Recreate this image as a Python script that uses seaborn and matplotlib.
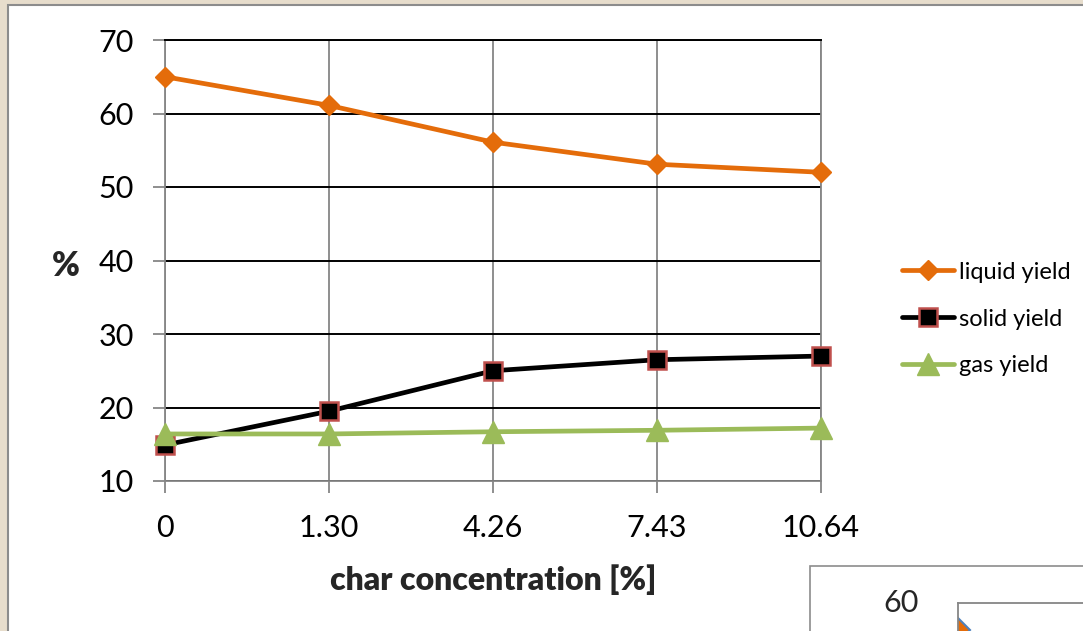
import numpy as np
import pandas as pd
import matplotlib
matplotlib.use("Agg")
import matplotlib.pyplot as plt
from matplotlib.patches import Rectangle
import seaborn as sns

# ---- data ----
categories = ["0", "1.30", "4.26", "7.43", "10.64"]
liquid_yield = [65.0, 61.1, 56.1, 53.1, 52.0]
solid_yield = [14.9, 19.5, 25.0, 26.5, 27.0]
gas_yield = [16.4, 16.4, 16.7, 16.9, 17.2]
y_ticks = [10, 20, 30, 40, 50, 60, 70]
series_names = ["liquid yield", "solid yield", "gas yield"]

# partially visible second chart (bottom right)
second_y_ticks = [60]
second_values = [56.3]

sns.set_theme(style="white")
plt.rcParams["font.family"] = ["Lato", "DejaVu Sans"]

W, H = 1083, 631
fig = plt.figure(figsize=(W / 100, H / 100), dpi=100, facecolor="#E7DDCC")

# white panel
fig.patches.append(Rectangle((8 / W, -0.1), 1.2, (H - 5) / H + 0.1, transform=fig.transFigure,
                             facecolor="white", edgecolor="#8C8C8C", lw=1.5, zorder=-2))
# second chart box
fig.patches.append(Rectangle((810 / W, -0.1), 1.0, (H - 566) / H + 0.1, transform=fig.transFigure,
                             facecolor="white", edgecolor="#8C8C8C", lw=1.2, zorder=-1))

L, R, T, B = 165, 821, 40, 481
ax = fig.add_axes([L / W, 1 - B / H, (R - L) / W, (B - T) / H])
ax.set_facecolor("white")

x = np.arange(len(categories))
df = pd.DataFrame({"x": x, "liquid yield": liquid_yield, "solid yield": solid_yield, "gas yield": gas_yield})

styles = {
    "liquid yield": dict(color="#E46C0A", marker="D", markersize=10, markeredgecolor="#E46C0A", markeredgewidth=1),
    "solid yield": dict(color="black", marker="s", markersize=12.5, markeredgecolor="#C0504D", markeredgewidth=1.8),
    "gas yield": dict(color="#9BBB59", marker="^", markersize=16, markeredgecolor="#9BBB59", markeredgewidth=1),
}
for name in series_names:
    sns.lineplot(data=df, x="x", y=name, ax=ax, label=name, linewidth=3.4, clip_on=False, zorder=5,
                 **styles[name])

ax.set_xlim(0, len(categories) - 1)
ax.set_ylim(y_ticks[0], y_ticks[-1])
ax.set_xticks(x)
ax.set_xticklabels(categories)
ax.set_yticks(y_ticks)
ax.set_axisbelow(True)
ax.yaxis.grid(True, color="black", lw=1.4)
ax.xaxis.grid(True, color="#868686", lw=1.3)
for s in ["left", "bottom", "right"]:
    ax.spines[s].set_color("#868686")
    ax.spines[s].set_linewidth(1.3)
ax.spines["top"].set_color("black")
ax.spines["top"].set_linewidth(1.4)

ax.tick_params(axis="both", direction="out", length=8.6, width=1.3, color="#868686",
               labelsize=22, labelcolor="black")
ax.tick_params(axis="y", pad=14, left=True)
ax.tick_params(axis="x", pad=15, bottom=True)

ax.set_xlabel("char concentration [%]", fontsize=23, fontweight="heavy", labelpad=16)
ax.set_ylabel("%", fontsize=24, fontweight="heavy", rotation=0, va="center", ha="center")
ax.yaxis.set_label_coords((66 - L) / (R - L), (B - 266) / (B - T))

leg = ax.legend(loc="center left", bbox_to_anchor=((902 - L) / (R - L), (B - 319) / (B - T)),
                frameon=False, fontsize=17, handlelength=2.2, handletextpad=0.2,
                labelspacing=1.1, borderaxespad=0, borderpad=0)
for t in leg.get_texts():
    t.set_color("black")

# second chart fragment
ax2 = fig.add_axes([958 / W, 0, (W - 958 + 20) / W, (H - 603) / H])
ax2.set_facecolor("none")
ax2.plot([0], second_values, marker="D", markersize=12, markerfacecolor="#E46C0A",
         markeredgecolor="#4F81BD", markeredgewidth=1.5, linestyle="none", clip_on=True)
ax2.set_xlim(0, 5)
ax2.set_ylim(second_y_ticks[0] - (H - 603) / 7.35, second_y_ticks[0])
ax2.set_yticks(second_y_ticks)
ax2.set_xticks([])
for s in ["bottom", "right"]:
    ax2.spines[s].set_visible(False)
ax2.spines["top"].set_color("#868686")
ax2.spines["left"].set_color("#868686")
ax2.spines["top"].set_linewidth(1.3)
ax2.spines["left"].set_linewidth(1.3)
ax2.tick_params(axis="y", direction="out", length=8, width=1.3, color="#868686", labelsize=22, pad=20)
ax2.yaxis.get_major_ticks()[0].label1.set_va("center")

fig.savefig("out.png", dpi=100, facecolor=fig.get_facecolor())
